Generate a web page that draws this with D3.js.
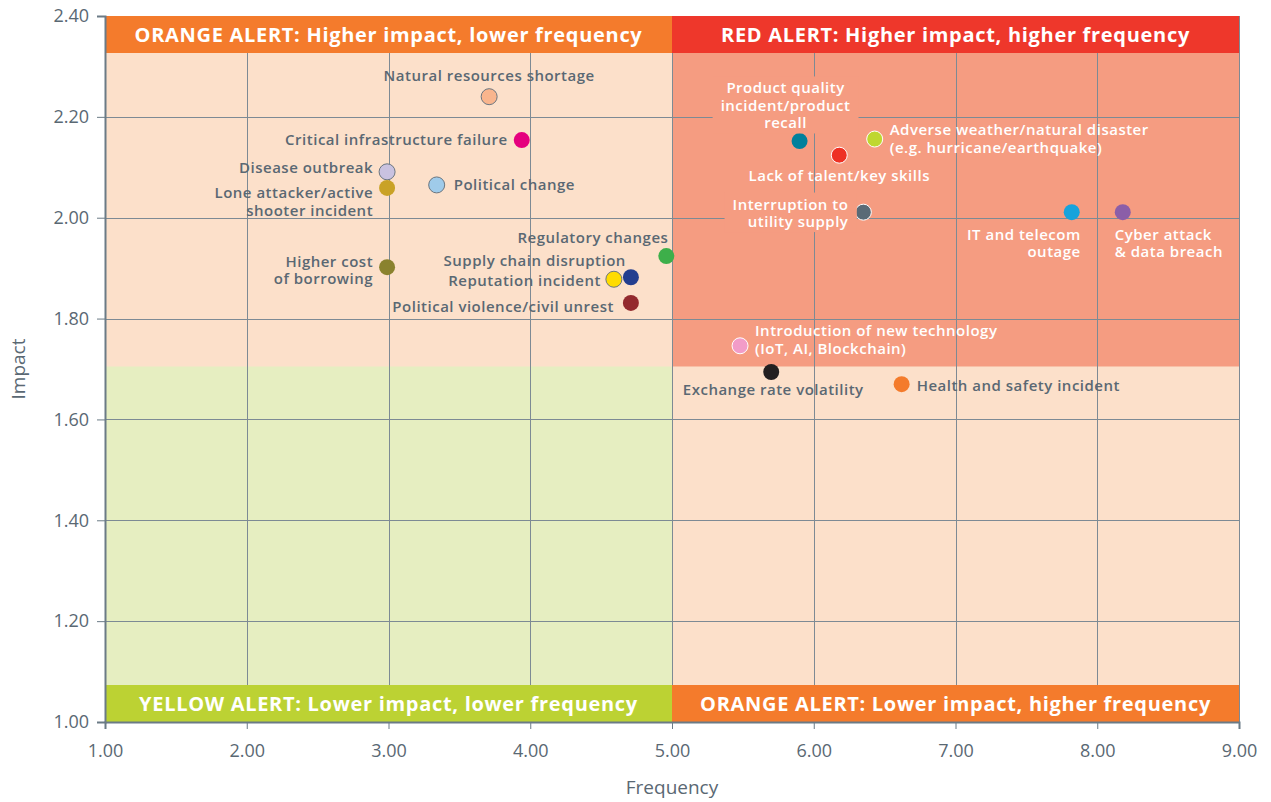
<!DOCTYPE html>
<html>
<head>
<meta charset="utf-8">
<script src="https://cdn.jsdelivr.net/npm/d3@7"></script>
<style>
  body { margin: 0; background: #fff; }
  svg { font-family: "Open Sans", "Noto Sans", sans-serif; }
</style>
</head>
<body>
<svg id="chart" width="1271" height="802"></svg>
<script>
// risk names, frequency (x), impact (y) and dot colour
const risks = [
  "Natural resources shortage", "Critical infrastructure failure", "Disease outbreak",
  "Lone attacker/active\nshooter incident", "Political change", "Higher cost\nof borrowing",
  "Regulatory changes", "Supply chain disruption", "Reputation incident",
  "Political violence/civil unrest", "Product quality\nincident/product\nrecall",
  "Lack of talent/key skills", "Adverse weather/natural disaster\n(e.g. hurricane/earthquake)",
  "Interruption to\nutility supply", "IT and telecom\noutage", "Cyber attack\n& data breach",
  "Introduction of new technology\n(IoT, AI, Blockchain)", "Exchange rate volatility",
  "Health and safety incident"
];
const frequency = [3.71, 3.94, 2.99, 2.99, 3.34, 2.99, 4.96, 4.71, 4.59, 4.71,
                   5.90, 6.18, 6.43, 6.35, 7.82, 8.18, 5.48, 5.70, 6.62];
const impact = [2.24, 2.154, 2.091, 2.059, 2.065, 1.902, 1.924, 1.882, 1.878, 1.831,
                2.152, 2.124, 2.156, 2.011, 2.011, 2.011, 1.746, 1.694, 1.670];
const dotColors = ["#f9b58d", "#e5007e", "#c9c2e0", "#c9a227", "#9fcbea", "#8a822e",
                   "#3daf4a", "#233e8f", "#ffdc00", "#932a2e", "#00809c", "#ee3124",
                   "#bfd730", "#5a6a76", "#17a3dc", "#8b5ea8", "#f29cc8", "#231f20", "#f47b2b"];
// dot outline: "g" grey, "w" white, "" none
const dotOutline = ["g", "", "g", "", "g", "", "", "", "g", "", "", "w", "w", "w", "", "", "w", "", ""];

const xTicks = [1, 2, 3, 4, 5, 6, 7, 8, 9];
const yTicks = [1.0, 1.2, 1.4, 1.6, 1.8, 2.0, 2.2, 2.4];
const impactSplit = 1.705;
const freqSplit = 5;

const zoneTitles = [
  "ORANGE ALERT: Higher impact, lower frequency",
  "RED ALERT: Higher impact, higher frequency",
  "YELLOW ALERT: Lower impact, lower frequency",
  "ORANGE ALERT: Lower impact, higher frequency"
];

// label placement: anchor, dx, dy (of first line centre), text tone, backing box
const labelPos = [
  ["middle", 0, -21, "dark"], ["end", -14, 0, "dark"], ["end", -14, -4, "dark"],
  ["end", -14, 5, "dark"], ["start", 17, 0, "dark"], ["end", -14, -6, "dark"],
  ["end", 2, -18, "dark"], ["end", -5, -17, "dark"], ["end", -13, 1, "dark"],
  ["end", -17, 4, "dark"], ["middle", -14, -53, "light", true], ["middle", 0, 20, "light"],
  ["start", 15, -9, "light"], ["end", -15, -8, "light", true], ["end", 9, 22, "light"],
  ["start", -8, 22, "light"], ["start", 15, -15, "light"], ["middle", 2, 18, "dark"],
  ["start", 15, 1, "dark"]
];

const W = 1271, H = 802;
const margin = { left: 105, right: 32, top: 16, bottom: 80 };
const svg = d3.select("#chart");

const x = d3.scaleLinear().domain([1, 9]).range([margin.left, W - margin.right]);
const y = d3.scaleLinear().domain([1, 2.4]).range([H - margin.bottom, margin.top]);

const axisColor = "#6b7b86";
const textColor = "#5a6873";

// zone fills
const zones = svg.append("g");
zones.append("rect").attr("x", x(1)).attr("y", y(2.4)).attr("width", x(9) - x(1)).attr("height", y(1) - y(2.4)).attr("fill", "#fce0ca");
zones.append("rect").attr("x", x(1)).attr("y", y(impactSplit)).attr("width", x(freqSplit) - x(1)).attr("height", y(1) - y(impactSplit)).attr("fill", "#e6eec1");
zones.append("rect").attr("x", x(freqSplit)).attr("y", y(2.4)).attr("width", x(9) - x(freqSplit)).attr("height", y(impactSplit) - y(2.4)).attr("fill", "#f59c81");

// grid
const grid = svg.append("g").attr("stroke", "#7d8a94").attr("stroke-width", 1);
grid.selectAll(".v").data(xTicks).join("line")
  .attr("x1", d => Math.round(x(d)) + 0.5).attr("x2", d => Math.round(x(d)) + 0.5)
  .attr("y1", y(2.4)).attr("y2", y(1));
grid.selectAll(".h").data(yTicks).join("line")
  .attr("x1", x(1)).attr("x2", x(9))
  .attr("y1", d => Math.round(y(d)) + 0.5).attr("y2", d => Math.round(y(d)) + 0.5)
  .attr("stroke", d => d === 2.4 ? "#b9c0c5" : null);

// title bands
const bandH = 37;
const bands = [
  { x0: 1, x1: freqSplit, top: true, fill: "#f47b2c" },
  { x0: freqSplit, x1: 9, top: true, fill: "#ee372b" },
  { x0: 1, x1: freqSplit, top: false, fill: "#bcd233" },
  { x0: freqSplit, x1: 9, top: false, fill: "#f47b2c" }
];
bands.forEach((b, i) => {
  const by = b.top ? y(2.4) : y(1) - bandH;
  svg.append("rect").attr("x", x(b.x0)).attr("y", by).attr("width", x(b.x1) - x(b.x0)).attr("height", bandH).attr("fill", b.fill);
  svg.append("text")
    .attr("x", (x(b.x0) + x(b.x1)) / 2).attr("y", by + bandH / 2)
    .attr("dy", "0.36em").attr("text-anchor", "middle")
    .attr("fill", "#fff").attr("font-weight", 700).attr("font-size", 20)
    .attr("letter-spacing", 0.7)
    .text(zoneTitles[i]);
});

// axes
const xAxis = svg.append("g").attr("transform", `translate(0,${y(1)})`)
  .call(d3.axisBottom(x).tickValues(xTicks).tickFormat(d3.format(".2f")).tickSize(7).tickPadding(15));
const yAxis = svg.append("g").attr("transform", `translate(${x(1)},0)`)
  .call(d3.axisLeft(y).tickValues(yTicks).tickFormat(d3.format(".2f")).tickSize(8).tickPadding(8));
[xAxis, yAxis].forEach(a => {
  a.select(".domain").attr("stroke", axisColor).attr("stroke-width", 2);
  a.selectAll(".tick line").attr("stroke", axisColor);
  a.selectAll(".tick text").attr("fill", textColor).attr("font-size", 18).attr("font-family", "Open Sans, sans-serif");
});

svg.append("text").attr("x", x(freqSplit)).attr("y", 787).attr("dy", "0.36em")
  .attr("text-anchor", "middle").attr("fill", textColor).attr("font-size", 19).text("Frequency");
svg.append("text").attr("transform", `translate(18,${(y(1) + y(2.4)) / 2}) rotate(-90)`)
  .attr("dy", "0.36em").attr("text-anchor", "middle").attr("fill", textColor).attr("font-size", 19).text("Impact");

// points
const pts = risks.map((name, i) => ({ name, fx: frequency[i], im: impact[i], color: dotColors[i], outline: dotOutline[i], pos: labelPos[i] }));

svg.append("g").selectAll("circle").data(pts).join("circle")
  .attr("cx", d => x(d.fx)).attr("cy", d => y(d.im)).attr("r", 8)
  .attr("fill", d => d.color)
  .attr("stroke", d => d.outline === "g" ? "#6b7680" : d.outline === "w" ? "#fff" : "none")
  .attr("stroke-width", 1);

// labels
const lineH = 17.5;
const labels = svg.append("g").attr("font-size", 15).attr("font-weight", 600).attr("letter-spacing", 0.5);
pts.forEach(d => {
  const [anchor, dx, dy, tone, box] = d.pos;
  const lines = d.name.split("\n");
  const g = labels.append("g");
  const t = g.append("text")
    .attr("text-anchor", anchor)
    .attr("fill", tone === "light" ? "#fff" : textColor);
  lines.forEach((ln, k) => {
    t.append("tspan").attr("x", x(d.fx) + dx).attr("y", y(d.im) + dy + k * lineH).attr("dy", "0.36em").text(ln);
  });
  if (box) {
    const bb = t.node().getBBox();
    g.insert("rect", "text").attr("x", bb.x - 8).attr("y", bb.y - 1).attr("width", bb.width + 16).attr("height", bb.height + 2).attr("fill", "#f59c81");
  }
});
</script>
</body>
</html>
